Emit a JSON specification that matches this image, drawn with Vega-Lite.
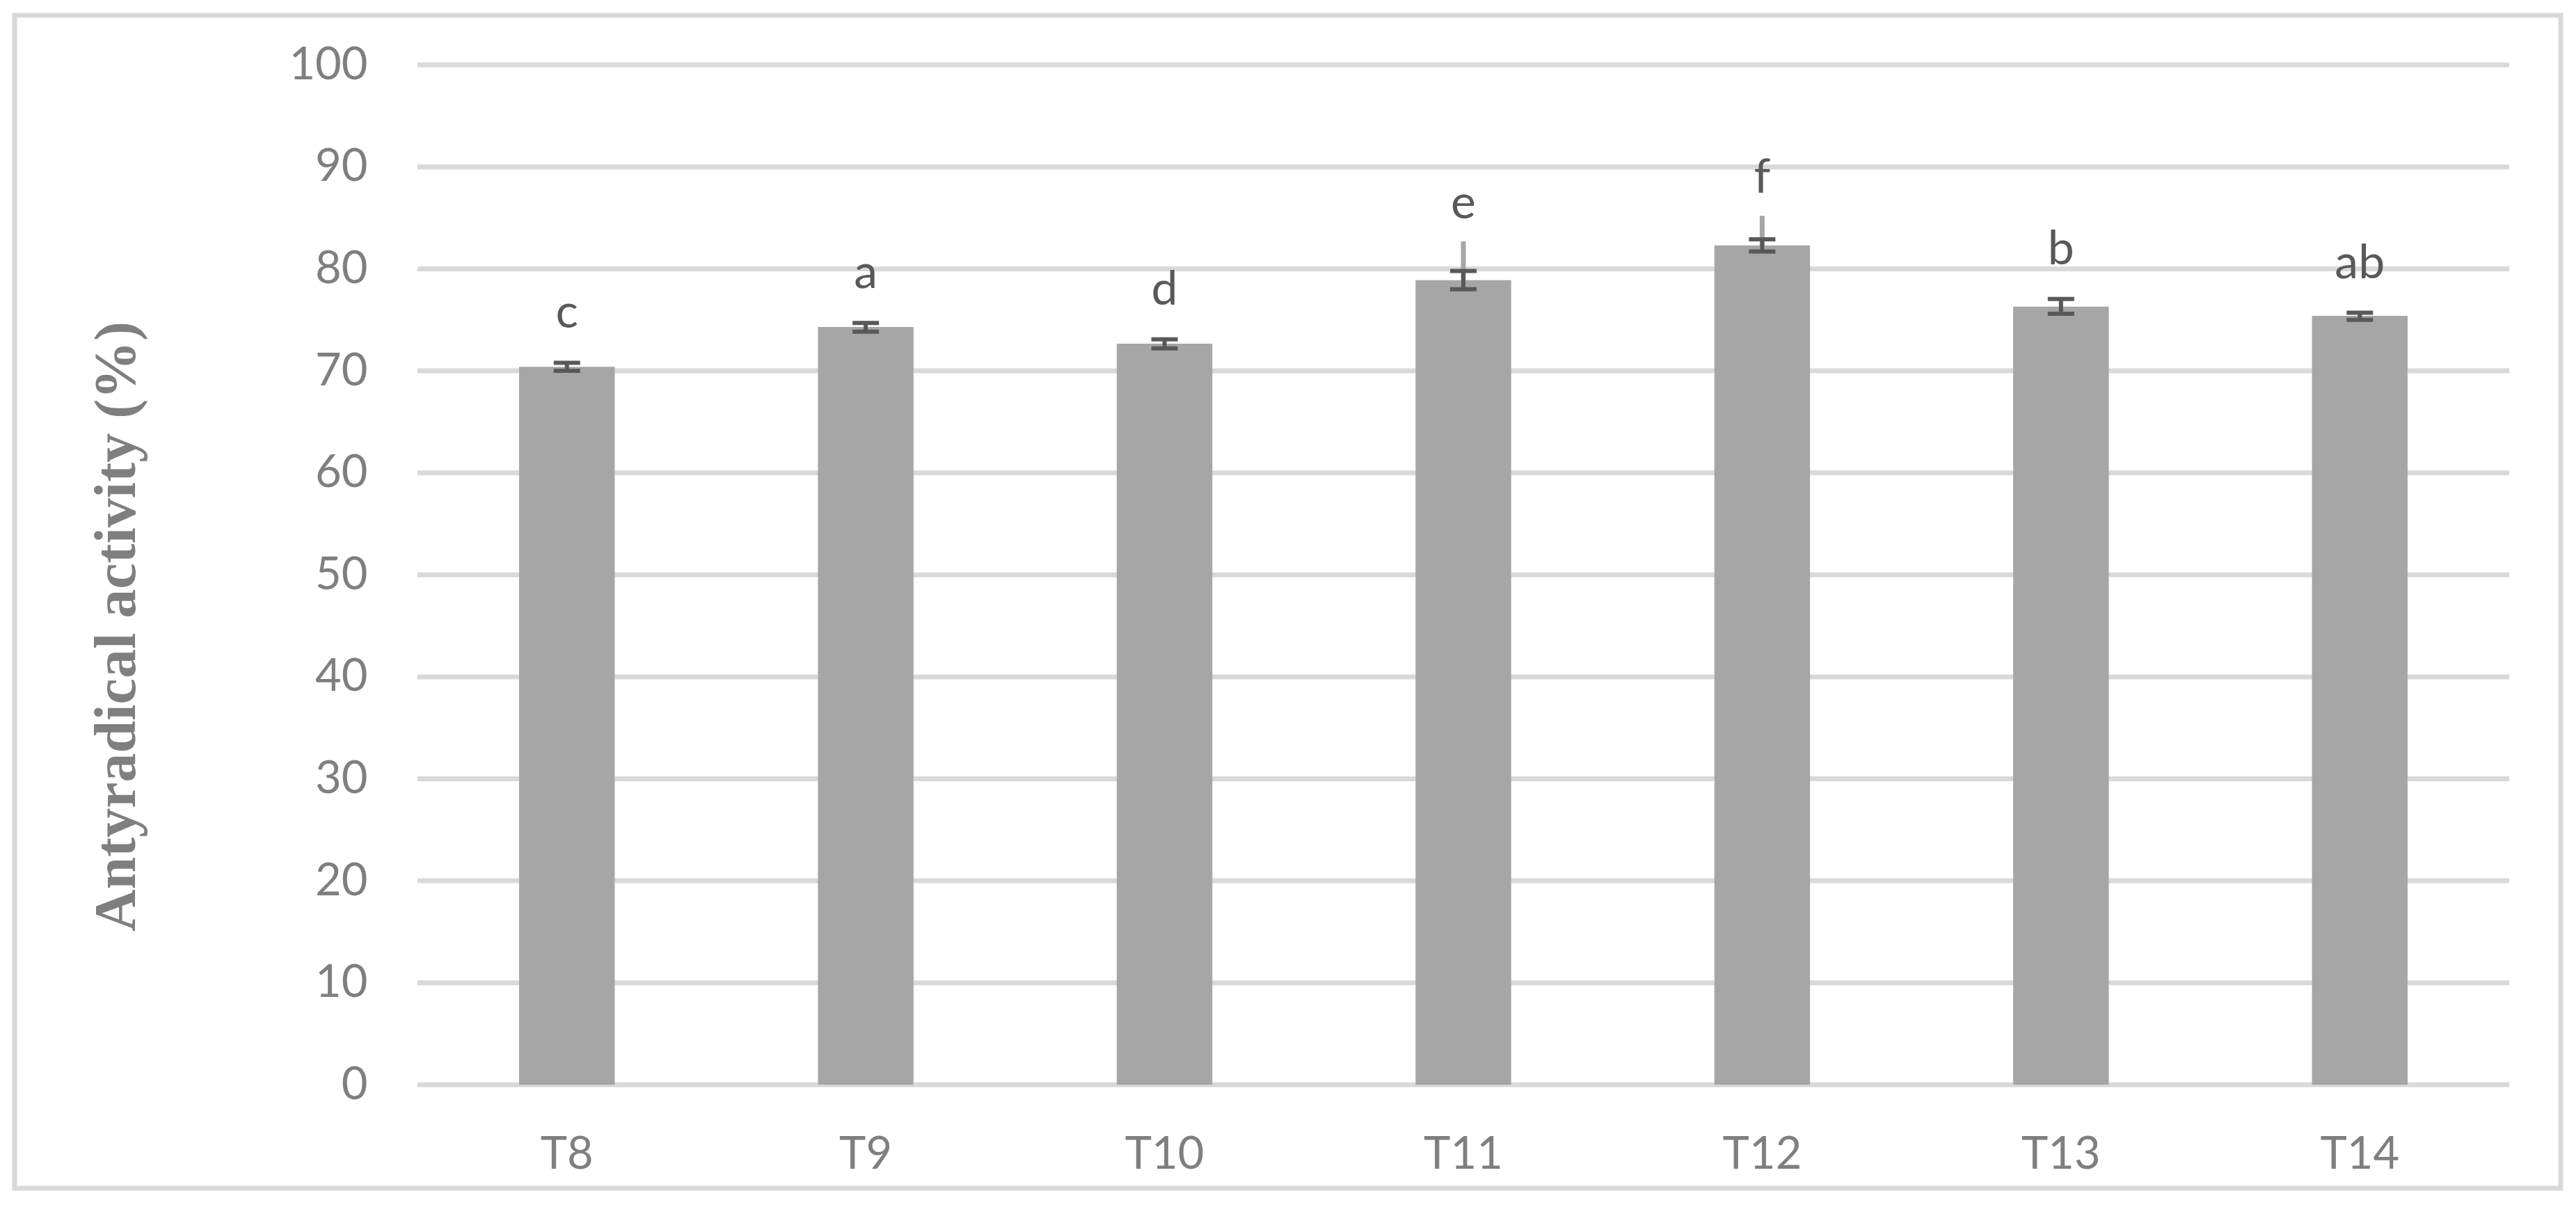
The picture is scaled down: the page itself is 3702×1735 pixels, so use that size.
{
  "$schema": "https://vega.github.io/schema/vega-lite/v6.json",
  "autosize": {"type": "none"},
  "padding": {"left": 21, "top": 22, "right": 22, "bottom": 27},
  "width": 3659,
  "height": 1686,
  "background": "white",
  "config": {
    "view": {"stroke": "#d9d9d9", "strokeWidth": 7},
    "font": "Lato"
  },
  "datasets": {
    "bars": [
      {"treatment": "T8", "mean": 70.4, "lo": 70.0, "hi": 70.8, "letter": "c"},
      {"treatment": "T9", "mean": 74.3, "lo": 73.85, "hi": 74.7, "letter": "a"},
      {"treatment": "T10", "mean": 72.67, "lo": 72.2, "hi": 73.1, "letter": "d"},
      {"treatment": "T11", "mean": 78.9, "lo": 78.0, "hi": 79.8, "letter": "e", "ext": 82.7},
      {"treatment": "T12", "mean": 82.3, "lo": 81.7, "hi": 82.9, "letter": "f", "ext": 85.2},
      {"treatment": "T13", "mean": 76.3, "lo": 75.6, "hi": 77.05, "letter": "b"},
      {"treatment": "T14", "mean": 75.4, "lo": 75.0, "hi": 75.7, "letter": "ab"}
    ],
    "grid": [
      {"v": 0}, {"v": 10}, {"v": 20}, {"v": 30}, {"v": 40}, {"v": 50},
      {"v": 60}, {"v": 70}, {"v": 80}, {"v": 90}, {"v": 100}
    ]
  },
  "resolve": {"scale": {"x": "independent"}},
  "layer": [
    {
      "data": {"name": "grid"},
      "mark": {"type": "rule", "color": "#d9d9d9", "strokeWidth": 7},
      "encoding": {
        "x": {"datum": 0, "type": "quantitative", "scale": {"domain": [-1.3483, 7.1723], "nice": false, "zero": false}, "axis": null},
        "x2": {"datum": 7},
        "y": {
          "field": "v", "type": "quantitative",
          "scale": {"domain": [-10.143, 104.864], "nice": false, "zero": false},
          "axis": {
            "values": [0, 10, 20, 30, 40, 50, 60, 70, 80, 90, 100],
            "grid": false, "domain": false, "ticks": false, "tickSize": 0,
            "labelPadding": 0, "offset": -507,
            "labelFont": "Lato", "labelFontSize": 65, "labelColor": "#7f7f7f",
            "title": "Antyradical activity (%)",
            "titleFont": "Liberation Serif", "titleFontWeight": "bold", "titleFontSize": 84,
            "titleColor": "#7f7f7f", "titleAngle": 270, "titleAlign": "center",
            "titleBaseline": "alphabetic", "titleX": -335, "titleY": 878
          }
        }
      }
    },
    {
      "data": {"name": "bars"},
      "layer": [
        {
          "mark": {"type": "bar", "color": "#a6a6a6", "width": {"band": 0.32}},
          "encoding": {
            "x": {
              "field": "treatment", "type": "nominal", "sort": null,
              "scale": {"domain": ["T8", "T9", "T10", "T11", "T12", "T13", "T14"], "paddingInner": 0, "paddingOuter": 0.7603, "align": 0.8867, "round": false},
              "axis": {
                "title": null, "domain": false, "ticks": false, "tickSize": 0, "grid": false,
                "labelPadding": 0, "offset": -29, "labelBaseline": "alphabetic", "labelAngle": 0,
                "labelFont": "Lato", "labelFontSize": 65, "labelColor": "#7f7f7f"
              }
            },
            "y": {
              "field": "mean", "type": "quantitative",
              "scale": {"domain": [-10.143, 104.864], "nice": false, "zero": false},
              "axis": {
                "values": [0, 10, 20, 30, 40, 50, 60, 70, 80, 90, 100],
                "grid": false, "domain": false, "ticks": false, "tickSize": 0,
                "labelPadding": 0, "offset": -507,
                "labelFont": "Lato", "labelFontSize": 65, "labelColor": "#7f7f7f",
                "title": "Antyradical activity (%)",
                "titleFont": "Liberation Serif", "titleFontWeight": "bold", "titleFontSize": 84,
                "titleColor": "#7f7f7f", "titleAngle": 270, "titleAlign": "center",
                "titleBaseline": "alphabetic", "titleX": -335, "titleY": 878
              }
            }
          }
        },
        {
          "transform": [{"filter": "isValid(datum.ext)"}],
          "mark": {"type": "rule", "color": "#a6a6a6", "strokeWidth": 7},
          "encoding": {
            "x": {"field": "treatment", "type": "nominal", "sort": null},
            "y": {"field": "mean", "type": "quantitative"},
            "y2": {"field": "ext"}
          }
        },
        {
          "mark": {"type": "rule", "color": "#595959", "strokeWidth": 6},
          "encoding": {
            "x": {"field": "treatment", "type": "nominal", "sort": null},
            "y": {"field": "lo", "type": "quantitative"},
            "y2": {"field": "hi"}
          }
        },
        {
          "mark": {"type": "tick", "color": "#595959", "size": 38, "thickness": 6, "opacity": 1},
          "encoding": {
            "x": {"field": "treatment", "type": "nominal", "sort": null},
            "y": {"field": "lo", "type": "quantitative"}
          }
        },
        {
          "mark": {"type": "tick", "color": "#595959", "size": 38, "thickness": 6, "opacity": 1},
          "encoding": {
            "x": {"field": "treatment", "type": "nominal", "sort": null},
            "y": {"field": "hi", "type": "quantitative"}
          }
        },
        {
          "transform": [{"filter": "!isValid(datum.ext)"}],
          "mark": {"type": "text", "font": "Lato", "fontSize": 68, "color": "#595959", "baseline": "alphabetic", "align": "center", "dy": -50},
          "encoding": {
            "x": {"field": "treatment", "type": "nominal", "sort": null},
            "y": {"field": "hi", "type": "quantitative"},
            "text": {"field": "letter"}
          }
        },
        {
          "transform": [{"filter": "isValid(datum.ext)"}],
          "mark": {"type": "text", "font": "Lato", "fontSize": 68, "color": "#595959", "baseline": "alphabetic", "align": "center", "dy": -33},
          "encoding": {
            "x": {"field": "treatment", "type": "nominal", "sort": null},
            "y": {"field": "ext", "type": "quantitative"},
            "text": {"field": "letter"}
          }
        }
      ]
    }
  ]
}
